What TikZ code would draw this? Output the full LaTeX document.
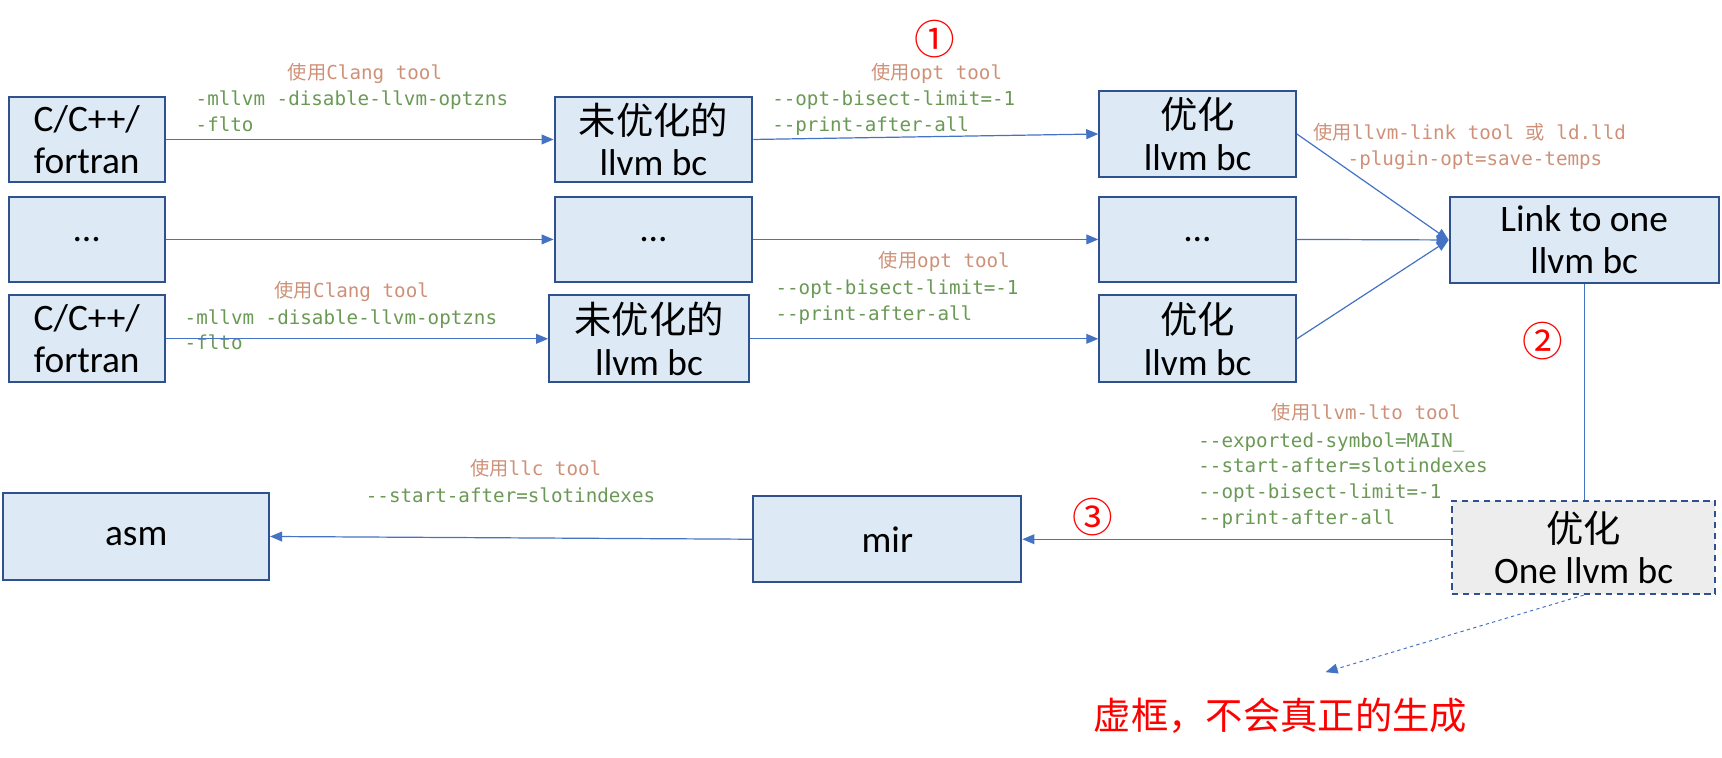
\documentclass[tikz,border=0pt]{standalone}
\usepackage{fontspec}
\setmainfont{Carlito}
\setmonofont{DejaVu Sans Mono}
\newfontfamily\cjk{Noto Sans CJK SC}
\usepackage{tikz}
\usetikzlibrary{calc,positioning,arrows.meta}
\definecolor{boxfill}{HTML}{DDEAF6}
\definecolor{boxline}{HTML}{2F528F}
\definecolor{arrowc}{HTML}{4472C4}
\definecolor{toolc}{HTML}{CE9178}
\definecolor{cmdc}{HTML}{6A9955}
\definecolor{grayfill}{HTML}{EDEDED}
\tikzstyle{box}        = [draw=boxline, fill=boxfill, line width=1.8pt, align=center, inner sep=0pt, font=\fontsize{34}{38}\selectfont]
\tikzstyle{virtualbox} = [box, fill=grayfill, dash pattern=on 6pt off 4pt]
\tikzstyle{arrow}      = [draw=arrowc, line width=1.1pt, -{Triangle[length=11pt,width=9pt]}]
\tikzstyle{dasharrow}  = [arrow, line width=0.9pt, dash pattern=on 3pt off 3pt]
\tikzstyle{tool}       = [anchor=base west, inner sep=0pt, text=toolc, font=\ttfamily\fontsize{17.5}{23.5}\selectfont]
\tikzstyle{cmd}        = [anchor=north west, inner sep=0pt, align=left, text=cmdc, font=\ttfamily\fontsize{17.5}{23.5}\selectfont]
\tikzstyle{circnum}    = [inner sep=0pt, text=red, font=\cjk\fontsize{37}{37}\selectfont]
\tikzstyle{note}       = [inner sep=0pt, text=red, font=\cjk\fontsize{34}{34}\selectfont]

\begin{document}
\begin{tikzpicture}[x=1pt,y=-1pt]
        \useasboundingbox (0,0) rectangle (1568,690);

        \node[box, minimum width=142pt, minimum height=78pt] (src1) at (79,127) {C/C++/\\fortran};
        \node[box, minimum width=142pt, minimum height=78pt] (src2) at (79,218) {…};
        \node[box, minimum width=142pt, minimum height=79pt] (src3) at (79,308.5) {C/C++/\\fortran};

        \node[box, minimum width=180pt, minimum height=78pt] (unopt1) at (595,127) {{\cjk 未优化的}\\llvm bc};
        \node[box, minimum width=180pt, minimum height=78pt] (unopt2) at (595,218) {…};
        \node[box, minimum width=182pt, minimum height=79pt] (unopt3) at (591,308.5) {{\cjk 未优化的}\\llvm bc};

        \node[box, minimum width=179pt, minimum height=78pt] (opt1) at (1090.5,122) {{\cjk 优化}\\llvm bc};
        \node[box, minimum width=179pt, minimum height=78pt] (opt2) at (1090.5,218) {…};
        \node[box, minimum width=179pt, minimum height=79pt] (opt3) at (1090.5,308.5) {{\cjk 优化}\\llvm bc};

        \node[box, minimum width=245pt, minimum height=79pt] (link) at (1442.5,218.5) {Link to one\\llvm bc};
        \node[virtualbox, minimum width=240pt, minimum height=85pt] (lto) at (1442,498.5) {{\cjk 优化}\\One llvm bc};
        \node[box, minimum width=244pt, minimum height=78pt] (mir) at (808,491) {mir};
        \node[box, minimum width=242pt, minimum height=79pt] (asm) at (124,488.5) {asm};

        \node[tool] (clang1) at (262,72) {{\cjk 使用}Clang tool};
        \node[cmd] (clangopt1) at (178,79.5) {\strut-mllvm -disable-llvm-optzns\\-flto};
        \node[tool] (clang3) at (250,271) {{\cjk 使用}Clang tool};
        \node[cmd] (clangopt3) at (168,278.5) {\strut-mllvm -disable-llvm-optzns\\-flto};

        \node[circnum] (one) at (851,36) {①};
        \node[tool] (opt1tool) at (793,72) {{\cjk 使用}opt tool};
        \node[cmd] (opt1cmd) at (703,79.5) {\strut--opt-bisect-limit=-1\\--print-after-all};
        \node[tool] (opt3tool) at (800,244) {{\cjk 使用}opt tool};
        \node[cmd] (opt3cmd) at (706,251.5) {\strut--opt-bisect-limit=-1\\--print-after-all};

        \node[tool] (linktool) at (1196,127) {{\cjk 使用}llvm-link tool {\cjk 或} ld.lld};
        \node[tool] (linkcmd) at (1227,151) {-plugin-opt=save-temps};

        \node[circnum] (two) at (1405,311) {②};
        \node[tool] (ltotool) at (1158,382) {{\cjk 使用}llvm-lto tool};
        \node[cmd] (ltocmd) at (1091,390.5) {\strut--exported-symbol=MAIN\_\\--start-after=slotindexes\\--opt-bisect-limit=-1\\--print-after-all};

        \node[circnum] (three) at (995,471) {③};
        \node[tool] (llctool) at (428,433) {{\cjk 使用}llc tool};
        \node[cmd] (llccmd) at (333,440.5) {\strut--start-after=slotindexes};

        \node[note] (note) at (1166,652) {虚框，不会真正的生成};
        \coordinate (tip) at (1207,612);

        \draw[arrow] (src1.east) -- (unopt1.west);
        \draw[arrow] (src2.east) -- (unopt2.west);
        \draw[arrow] (src3.east) -- (unopt3.west);
        \draw[arrow] (unopt1.east) -- (opt1.west);
        \draw[arrow] (unopt2.east) -- (opt2.west);
        \draw[arrow] (unopt3.east) -- (opt3.west);
        \draw[arrow] (opt1.east) -- (link.west);
        \draw[arrow] (opt2.east) -- (link.west);
        \draw[arrow] (opt3.east) -- (link.west);
        \draw[draw=arrowc, line width=1.1pt] (link.south) -- (link.south |- lto.north);
        \draw[arrow] (mir.east -| lto.west) -- (mir.east);
        \draw[arrow] (mir.west) -- (asm.east);
        \draw[dasharrow] (lto.south) -- (tip);
    \end{tikzpicture}
\end{document}
